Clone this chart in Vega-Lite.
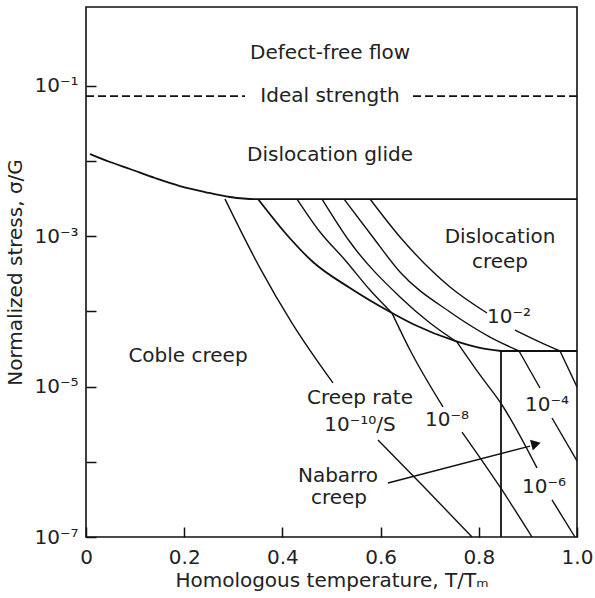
{
  "$schema": "https://vega.github.io/schema/vega-lite/v6.json",
  "width": 491,
  "height": 530,
  "autosize": "none",
  "padding": {"left": 86, "top": 7, "right": 18, "bottom": 61},
  "background": "white",
  "config": {
    "font": "DejaVu Sans",
    "view": {"stroke": "#111", "strokeWidth": 1.6},
    "axis": {
      "grid": false,
      "domain": false,
      "tickSize": -10,
      "tickWidth": 1.5,
      "tickColor": "#111",
      "labelFontSize": 20,
      "labelColor": "#222",
      "titleFontSize": 20,
      "titleFontWeight": "normal",
      "titleColor": "#222",
      "labelFlush": false,
      "labelOverlap": false
    }
  },
  "datasets": {
    "lines": [
      {"k": "boundary", "s": "glide", "o": 0, "x": 0.0081, "y": 0.01242},
      {"k": "boundary", "s": "glide", "o": 1, "x": 0.0489, "y": 0.00973},
      {"k": "boundary", "s": "glide", "o": 2, "x": 0.0896, "y": 0.00785},
      {"k": "boundary", "s": "glide", "o": 3, "x": 0.1405, "y": 0.00596},
      {"k": "boundary", "s": "glide", "o": 4, "x": 0.1914, "y": 0.00466},
      {"k": "boundary", "s": "glide", "o": 5, "x": 0.2424, "y": 0.00388},
      {"k": "boundary", "s": "glide", "o": 6, "x": 0.2933, "y": 0.00333},
      {"k": "boundary", "s": "glide", "o": 7, "x": 0.3442, "y": 0.00313},
      {"k": "boundary", "s": "glide", "o": 8, "x": 1.0, "y": 0.00313},
      {"k": "boundary", "s": "disl", "o": 0, "x": 0.3503, "y": 0.00313},
      {"k": "boundary", "s": "disl", "o": 1, "x": 0.4094, "y": 0.00104},
      {"k": "boundary", "s": "disl", "o": 2, "x": 0.4623, "y": 0.000455},
      {"k": "boundary", "s": "disl", "o": 3, "x": 0.5377, "y": 0.000205},
      {"k": "boundary", "s": "disl", "o": 4, "x": 0.6232, "y": 0.0000954},
      {"k": "boundary", "s": "disl", "o": 5, "x": 0.6701, "y": 0.0000660},
      {"k": "boundary", "s": "disl", "o": 6, "x": 0.7515, "y": 0.0000405},
      {"k": "boundary", "s": "disl", "o": 7, "x": 0.8024, "y": 0.0000327},
      {"k": "boundary", "s": "disl", "o": 8, "x": 0.8452, "y": 0.0000298},
      {"k": "boundary", "s": "dislh", "o": 0, "x": 0.8452, "y": 0.0000298},
      {"k": "boundary", "s": "dislh", "o": 1, "x": 1.0, "y": 0.0000298},
      {"k": "boundary", "s": "nab", "o": 0, "x": 0.8452, "y": 0.0000298},
      {"k": "boundary", "s": "nab", "o": 1, "x": 0.8452, "y": 0.0000001},
      {"k": "contour", "s": "a1", "o": 0, "x": 0.2831, "y": 0.00313},
      {"k": "contour", "s": "a1", "o": 1, "x": 0.3544, "y": 0.000378},
      {"k": "contour", "s": "a1", "o": 2, "x": 0.4196, "y": 0.0000702},
      {"k": "contour", "s": "a1", "o": 3, "x": 0.5031, "y": 0.0000112},
      {"k": "contour", "s": "a2", "o": 0, "x": 0.5947, "y": 0.00000195},
      {"k": "contour", "s": "a2", "o": 1, "x": 0.6904, "y": 0.000000448},
      {"k": "contour", "s": "a2", "o": 2, "x": 0.7862, "y": 0.0000001},
      {"k": "contour", "s": "c1a", "o": 0, "x": 0.4297, "y": 0.00313},
      {"k": "contour", "s": "c1a", "o": 1, "x": 0.4766, "y": 0.00114},
      {"k": "contour", "s": "c1a", "o": 2, "x": 0.5275, "y": 0.000484},
      {"k": "contour", "s": "c1a", "o": 3, "x": 0.5784, "y": 0.000193},
      {"k": "contour", "s": "c1a", "o": 4, "x": 0.6232, "y": 0.0000954},
      {"k": "contour", "s": "c1b", "o": 0, "x": 0.6232, "y": 0.0000954},
      {"k": "contour", "s": "c1b", "o": 1, "x": 0.6599, "y": 0.0000307},
      {"k": "contour", "s": "c1b", "o": 2, "x": 0.7271, "y": 0.00000536},
      {"k": "contour", "s": "c2", "o": 0, "x": 0.7658, "y": 0.00000249},
      {"k": "contour", "s": "c2", "o": 1, "x": 0.8432, "y": 0.000000463},
      {"k": "contour", "s": "c2", "o": 2, "x": 0.9084, "y": 0.0000001},
      {"k": "contour", "s": "d1a", "o": 0, "x": 0.4807, "y": 0.00313},
      {"k": "contour", "s": "d1a", "o": 1, "x": 0.5377, "y": 0.000839},
      {"k": "contour", "s": "d1a", "o": 2, "x": 0.6395, "y": 0.000156},
      {"k": "contour", "s": "d1a", "o": 3, "x": 0.7006, "y": 0.0000702},
      {"k": "contour", "s": "d1a", "o": 4, "x": 0.7556, "y": 0.0000392},
      {"k": "contour", "s": "d1b", "o": 0, "x": 0.7556, "y": 0.0000392},
      {"k": "contour", "s": "d1b", "o": 1, "x": 0.8024, "y": 0.0000143},
      {"k": "contour", "s": "d1b", "o": 2, "x": 0.8473, "y": 0.0000057},
      {"k": "contour", "s": "d1b", "o": 3, "x": 0.9185, "y": 0.000000828},
      {"k": "contour", "s": "d2", "o": 0, "x": 0.9491, "y": 0.000000311},
      {"k": "contour", "s": "d2", "o": 1, "x": 0.9959, "y": 0.0000001},
      {"k": "contour", "s": "e1a", "o": 0, "x": 0.5255, "y": 0.00313},
      {"k": "contour", "s": "e1a", "o": 1, "x": 0.5825, "y": 0.00101},
      {"k": "contour", "s": "e1a", "o": 2, "x": 0.6395, "y": 0.000335},
      {"k": "contour", "s": "e1a", "o": 3, "x": 0.7413, "y": 0.0000983},
      {"k": "contour", "s": "e1a", "o": 4, "x": 0.8228, "y": 0.0000457},
      {"k": "contour", "s": "e1a", "o": 5, "x": 0.8819, "y": 0.0000298},
      {"k": "contour", "s": "e1b", "o": 0, "x": 0.8819, "y": 0.0000298},
      {"k": "contour", "s": "e1b", "o": 1, "x": 0.9246, "y": 0.00000959},
      {"k": "contour", "s": "e2", "o": 0, "x": 0.9491, "y": 0.00000383},
      {"k": "contour", "s": "e2", "o": 1, "x": 1.0, "y": 0.00000103},
      {"k": "contour", "s": "f1", "o": 0, "x": 0.5784, "y": 0.00313},
      {"k": "contour", "s": "f1", "o": 1, "x": 0.6395, "y": 0.000978},
      {"k": "contour", "s": "f1", "o": 2, "x": 0.7413, "y": 0.000212},
      {"k": "contour", "s": "f1", "o": 3, "x": 0.8167, "y": 0.0000954},
      {"k": "contour", "s": "f2a", "o": 0, "x": 0.8737, "y": 0.0000567},
      {"k": "contour", "s": "f2a", "o": 1, "x": 0.9246, "y": 0.0000392},
      {"k": "contour", "s": "f2a", "o": 2, "x": 0.9654, "y": 0.0000298},
      {"k": "contour", "s": "f2b", "o": 0, "x": 0.9654, "y": 0.0000298},
      {"k": "contour", "s": "f2b", "o": 1, "x": 1.0, "y": 0.00000989},
      {"k": "ideal", "s": "i1", "o": 0, "x": 0.0, "y": 0.0734},
      {"k": "ideal", "s": "i1", "o": 1, "x": 0.3238, "y": 0.0734},
      {"k": "ideal", "s": "i2", "o": 0, "x": 0.666, "y": 0.0734},
      {"k": "ideal", "s": "i2", "o": 1, "x": 1.0, "y": 0.0734},
      {"k": "arrow", "s": "arr", "o": 0, "x": 0.6151, "y": 0.000000523},
      {"k": "arrow", "s": "arr", "o": 1, "x": 0.9043, "y": 0.00000162}
    ],
    "heads": [
      {"x": 0.9165, "y": 0.00000173}
    ],
    "labels": [
      {"t": "Defect-free flow", "x": 0.497, "y": 0.274},
      {"t": "Ideal strength", "x": 0.497, "y": 0.0734},
      {"t": "Dislocation glide", "x": 0.497, "y": 0.01205},
      {"t": "Dislocation", "x": 0.8432, "y": 0.000978},
      {"t": "creep", "x": 0.8432, "y": 0.000455},
      {"t": "10⁻²", "x": 0.8615, "y": 0.0000844},
      {"t": "Coble creep", "x": 0.2077, "y": 0.0000256},
      {"t": "Creep rate", "x": 0.558, "y": 0.00000706},
      {"t": "10⁻¹⁰/S", "x": 0.558, "y": 0.00000309},
      {"t": "10⁻⁸", "x": 0.7352, "y": 0.0000036},
      {"t": "10⁻⁴", "x": 0.9389, "y": 0.0000057},
      {"t": "10⁻⁶", "x": 0.9328, "y": 0.000000463},
      {"t": "Nabarro", "x": 0.5132, "y": 0.000000648},
      {"t": "creep", "x": 0.5153, "y": 0.00000033}
    ]
  },
  "encoding": {
    "x": {
      "field": "x",
      "type": "quantitative",
      "scale": {"domain": [0, 1], "nice": false, "zero": false},
      "axis": {
        "values": [0, 0.2, 0.4, 0.6, 0.8, 1.0],
        "labelExpr": "datum.value == 0 ? '0' : format(datum.value, '.1f')",
        "labelPadding": 20,
        "titlePadding": 3,
        "title": "Homologous temperature, T/Tₘ"
      }
    },
    "y": {
      "field": "y",
      "type": "quantitative",
      "scale": {"type": "log", "domain": [0.0000001, 1.122], "nice": false},
      "axis": {
        "values": [0.0000001, 0.000001, 0.00001, 0.0001, 0.001, 0.01, 0.1],
        "labelExpr": "round(log(datum.value)/LN10) == -1 ? '10⁻¹' : round(log(datum.value)/LN10) == -3 ? '10⁻³' : round(log(datum.value)/LN10) == -5 ? '10⁻⁵' : round(log(datum.value)/LN10) == -7 ? '10⁻⁷' : ''",
        "labelPadding": 18,
        "titlePadding": 8,
        "title": "Normalized stress, σ/G"
      }
    }
  },
  "layer": [
    {
      "data": {"name": "lines"},
      "transform": [{"filter": "datum.k == 'boundary'"}],
      "mark": {"type": "line", "stroke": "#111", "strokeWidth": 1.8, "interpolate": "monotone", "clip": true},
      "encoding": {"detail": {"field": "s"}, "order": {"field": "o", "type": "quantitative"}}
    },
    {
      "data": {"name": "lines"},
      "transform": [{"filter": "datum.k == 'contour'"}],
      "mark": {"type": "line", "stroke": "#111", "strokeWidth": 1.4, "interpolate": "monotone", "clip": true},
      "encoding": {"detail": {"field": "s"}, "order": {"field": "o", "type": "quantitative"}}
    },
    {
      "data": {"name": "lines"},
      "transform": [{"filter": "datum.k == 'ideal'"}],
      "mark": {"type": "line", "stroke": "#111", "strokeWidth": 1.8, "strokeDash": [8, 4], "clip": true},
      "encoding": {"detail": {"field": "s"}, "order": {"field": "o", "type": "quantitative"}}
    },
    {
      "data": {"name": "lines"},
      "transform": [{"filter": "datum.k == 'arrow'"}],
      "mark": {"type": "line", "stroke": "#111", "strokeWidth": 1.4},
      "encoding": {"detail": {"field": "s"}, "order": {"field": "o", "type": "quantitative"}}
    },
    {
      "data": {"name": "heads"},
      "mark": {"type": "point", "shape": "triangle-right", "filled": true, "size": 120, "angle": 345, "color": "#111", "opacity": 1}
    },
    {
      "data": {"name": "labels"},
      "mark": {"type": "text", "fontSize": 20, "font": "DejaVu Sans", "color": "#222", "baseline": "middle", "align": "center"},
      "encoding": {"text": {"field": "t"}}
    }
  ]
}
